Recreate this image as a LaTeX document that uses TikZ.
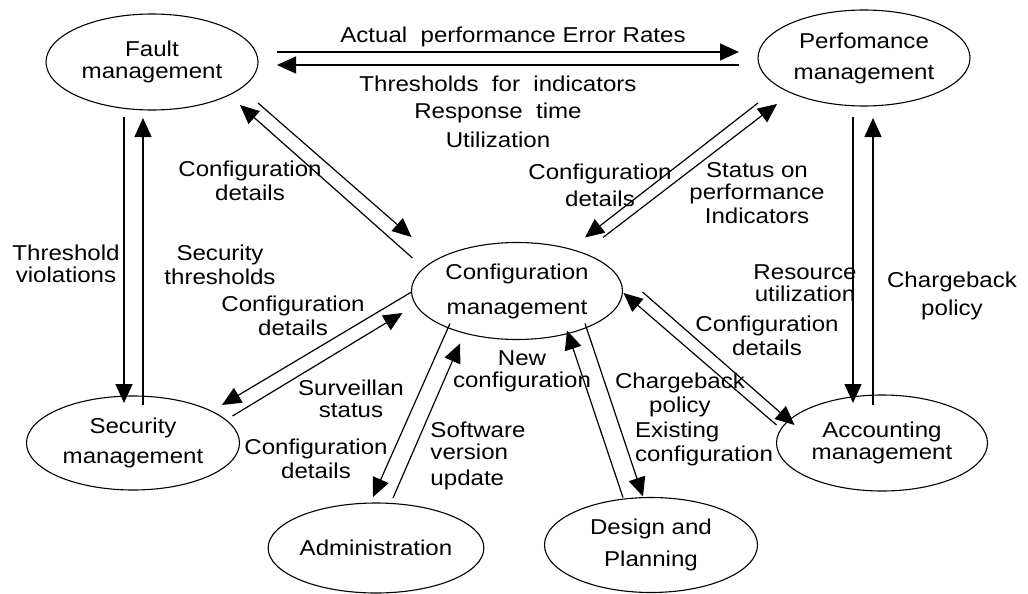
\documentclass[tikz,border=0pt]{standalone}
\usepackage{fontspec}
\setmainfont{Liberation Sans}[FakeStretch=1.12]
\usetikzlibrary{arrows.meta,shapes.geometric}

\begin{document}
\begin{tikzpicture}[
        x=1pt, y=-1pt,
        mgmt/.style={
            draw,
            ellipse,
            line width=1.1pt,
            minimum width=212pt,
            minimum height=96pt,
            inner sep=0pt,
            outer sep=0pt,
            align=center,
            font=\fontsize{21.5}{19}\selectfont
        },
        lbl/.style={
            inner sep=0pt,
            align=center,
            font=\fontsize{21.5}{19}\selectfont
        },
        flow/.style={-{Triangle[length=19pt,width=17pt]},line width=1.2pt}
    ]
    \useasboundingbox (0,0) rectangle (1028,594);

    \node[mgmt] (fault) at (152,62) {Fault\\[3pt]management};
    \node[mgmt] (perf) at (864,58) {Perfomance\\[12pt]management};
    \node[mgmt, minimum width=211pt, minimum height=97pt]
        (config) at (517,291) {Configuration\\[16pt]management};
    \node[mgmt, minimum width=213pt, minimum height=94pt]
        (security) at (133,443) {Security\\[11pt]management};
    \node[mgmt, minimum width=211pt]
        (accounting) at (882,443) {Accounting\\[3pt]management};
    \node[mgmt, minimum width=213pt, minimum height=90pt]
        (admin) at (376,548) {Administration};
    \node[mgmt, minimum width=213pt, minimum height=95pt]
        (design) at (651,545) {Design and\\[11pt]Planning};

    % fault <-> performance
    \draw[flow] ([shift={(19,-10)}]fault.east) -- ([shift={(-19,-6)}]perf.west);
    \draw[flow] ([shift={(-19,7)}]perf.west) -- ([shift={(19,3)}]fault.east);
    \node[lbl] (rates) at (513,37) {Actual\ \ performance Error Rates};
    \node[lbl] (thresh) at (498,112)
        {Thresholds\ \ for\ \ indicators\\[8pt]Response\ \ time\\[8pt]Utilization};

    % fault <-> configuration
    \draw[flow] ([shift={(0,41)}]fault.east) -- ([shift={(0,-54)}]config.west);
    \draw[flow] ([shift={(1,-33)}]config.west) -- ([shift={(88,-5)}]fault.south);
    \node[lbl] (cfgfault) at (250,181) {Configuration\\[3pt]details};

    % performance <-> configuration
    \draw[flow] ([shift={(86,-5)}]config.north) -- ([shift={(-87,-2)}]perf.south);
    \draw[flow] ([shift={(-106,-3)}]perf.south) -- ([shift={(68,-5)}]config.north);
    \node[lbl] (cfgperf) at (600,185) {Configuration\\[6pt]details};
    \node[lbl] (status) at (757,193) {Status on\\[3pt]performance\\[3pt]Indicators};

    % fault <-> security
    \draw[flow] ([shift={(-28,7)}]fault.south) -- ([shift={(-9,7)}]security.north);
    \draw[flow] ([shift={(10,9)}]security.north) -- ([shift={(-9,8)}]fault.south);
    \node[lbl] (violations) at (66,264) {Threshold\\[3pt]violations};
    \node[lbl] (secthresh) at (220,265) {Security\\[3pt]thresholds};

    % performance <-> accounting
    \draw[flow] ([shift={(-11,11)}]perf.south) -- ([shift={(-29,8)}]accounting.north);
    \draw[flow] ([shift={(-9,10)}]accounting.north) -- ([shift={(9,12)}]perf.south);
    \node[lbl] (resource) at (805,283) {Resource\\[3pt]utilization};
    \node[lbl] (chargeperf) at (952,296) {Chargeback\\[7pt]policy};

    % security <-> configuration
    \draw[flow] ([shift={(0,1)}]config.west) -- ([shift={(89,9)}]security.north);
    \draw[flow] ([shift={(-7,-27)}]security.east) -- ([shift={(-9,22)}]config.west);
    \node[lbl] (cfgsec) at (293,316) {Configuration\\[3pt]details};
    \node[lbl] (surveil) at (351,399) {Surveillan\\[3pt]status};

    % configuration <-> administration
    \draw[flow] ([shift={(-67,-16)}]config.south) -- ([shift={(-3,-6)}]admin.north);
    \draw[flow] ([shift={(17,-5)}]admin.north) -- ([shift={(-57,4)}]config.south);
    \node[lbl] (cfgadmin) at (316,459) {Configuration\\[3pt]details};
    \node[lbl, align=left] (software) at (478,456)
        {Software\\[3pt]version\\[7pt]update};

    % configuration <-> design
    \draw[flow] ([shift={(-28,0)}]design.north) -- ([shift={(50,-9)}]config.south);
    \draw[flow] ([shift={(68,-16)}]config.south) -- ([shift={(-8,-1)}]design.north);
    \node[lbl] (newcfg) at (522,371) {New\\[3pt]configuration};
    \node[lbl] (chargedesign) at (680,395) {Chargeback\\[3pt]policy};
    \node[lbl, align=left] (existing) at (704,444) {Existing\\[3pt]configuration};

    % configuration <-> accounting
    \draw[flow] ([shift={(0,-18)}]accounting.west) -- ([shift={(1,2)}]config.east);
    \draw[flow] ([shift={(20,1)}]config.east) -- ([shift={(18,-18)}]accounting.west);
    \node[lbl] (cfgacc) at (767,336) {Configuration\\[3pt]details};

\end{tikzpicture}
\end{document}
